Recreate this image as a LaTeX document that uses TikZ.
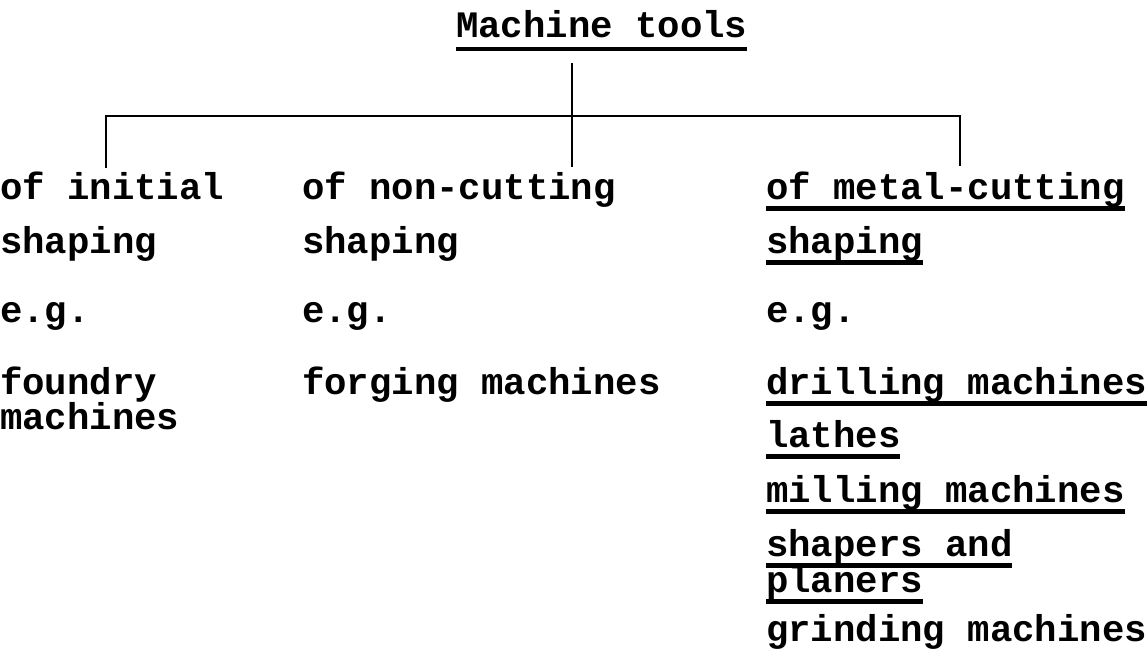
\documentclass[tikz,border=0pt]{standalone}
\usepackage{fontspec}
\setmonofont{Liberation Mono}
\newfontfamily\twfont{Liberation Mono}[BoldFont={Liberation Mono Bold}]
\begin{document}
\begin{tikzpicture}[x=0.5pt,y=-0.5pt,
  txt/.style={anchor=base west,inner sep=0pt,outer sep=0pt,font=\twfont\bfseries\fontsize{18.67pt}{20pt}\selectfont},
  conn/.style={line width=1.4pt},
  ul/.style={line width=2.2pt}]
\useasboundingbox (0,0) rectangle (1148,657);
% title
\node[txt] (title) at (456,38) {Machine tools};
\draw[ul] ([yshift=-5.5pt]title.base west) -- ([yshift=-5.5pt]title.base east);
% column 1
\node[txt] (a1) at (0,200) {of initial};
\node[txt] (a2) at (0,254) {shaping};
\node[txt] (a3) at (0,323) {e.g.};
\node[txt] (a4) at (0,395) {foundry};
\node[txt] (a5) at (0,430) {machines};
% column 2
\node[txt] (b1) at (302,200) {of non-cutting};
\node[txt] (b2) at (302,254) {shaping};
\node[txt] (b3) at (302,323) {e.g.};
\node[txt] (b4) at (302,395) {forging machines};
% column 3
\node[txt] (c1) at (766,200) {of metal-cutting};
\node[txt] (c2) at (766,254) {shaping};
\node[txt] (c3) at (766,323) {e.g.};
\node[txt] (c4) at (766,395) {drilling machines};
\node[txt] (c5) at (766,448) {lathes};
\node[txt] (c6) at (766,503) {milling machines};
\node[txt] (c7) at (766,557) {shapers and};
\node[txt] (c8) at (766,593) {planers};
\node[txt] (c9) at (766,642) {grinding machines};
\foreach \n in {c1,c2,c4,c5,c6,c7,c8}{
  \draw[ul] ([yshift=-4.2pt]\n.base west) -- ([yshift=-4.2pt]\n.base east);
}
% connectors
\coordinate (stemtop) at (572,63);
\coordinate (bar) at (572,116);
\coordinate (lbar) at (106,116);
\coordinate (rbar) at (960,116);
\coordinate (ldrop) at (106,168);
\coordinate (mdrop) at (572,167);
\coordinate (rdrop) at (960,166);
\draw[conn] (stemtop) -- (bar) -- (mdrop);
\draw[conn] (ldrop) -- (lbar) -- (rbar) -- (rdrop);
\end{tikzpicture}
\end{document}
